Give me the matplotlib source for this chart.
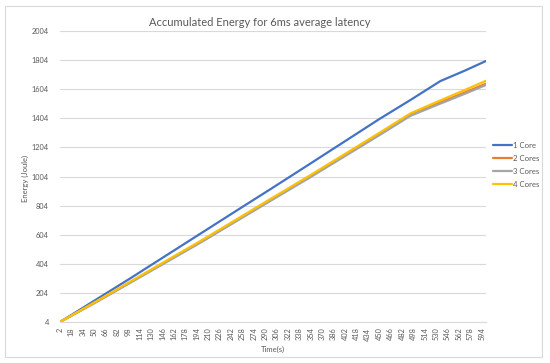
import matplotlib.pyplot as plt
from matplotlib.patches import Rectangle

plt.rcParams["font.family"] = ["Lato", "DejaVu Sans"]

# sampled read-offs of the curves (time in s, energy in Joule)
times = [2, 50, 100, 150, 200, 250, 300, 350, 400, 450, 494, 536, 570, 600]
core1 = [4, 150, 302, 458, 614, 770, 925, 1082, 1240, 1398, 1530, 1660, 1731, 1798]
core2 = [4, 134, 274, 415, 555, 702, 848, 994, 1143, 1293, 1427, 1513, 1581, 1642]
core3 = [4, 133, 272, 412, 552, 698, 844, 989, 1138, 1287, 1421, 1505, 1572, 1633]
core4 = [4, 138, 280, 422, 563, 710, 857, 1003, 1153, 1303, 1438, 1527, 1598, 1662]

series = [
    ("1 Core", core1, "#4472C4"),
    ("2 Cores", core2, "#ED7D31"),
    ("3 Cores", core3, "#A5A5A5"),
    ("4 Cores", core4, "#FFC000"),
]

y_ticks = list(range(4, 2005, 200))
x_ticks = list(range(2, 595, 16))

W, H = 550, 363
fig = plt.figure(figsize=(W / 100, H / 100), dpi=100)
ax = fig.add_axes([60 / W, 1 - 322 / H, (486 - 60) / W, (322 - 31) / H])

for label, vals, color in series:
    ax.plot(times, vals, color=color, lw=1.6, label=label, solid_capstyle="round")

ax.set_xlim(2, 600)
ax.set_ylim(4, 2004)
ax.set_yticks(y_ticks)
ax.set_xticks(x_ticks)
ax.set_xticklabels([str(t) for t in x_ticks], rotation=90)
ax.tick_params(axis="both", length=0, labelsize=5.3, colors="#595959")
ax.tick_params(axis="x", pad=4)
ax.tick_params(axis="y", pad=8)
ax.grid(axis="y", color="#D9D9D9", lw=0.8)
ax.set_axisbelow(True)
for side in ["top", "right", "left"]:
    ax.spines[side].set_visible(False)
ax.spines["bottom"].set_color("#D9D9D9")
ax.spines["bottom"].set_linewidth(0.8)

fig.text(260 / W, 1 - 22 / H, "Accumulated Energy for 6ms average latency",
         ha="center", va="center", fontsize=8, color="#595959")
fig.text(25 / W, 1 - 178 / H, "Energy (Joule)", rotation=90,
         ha="center", va="center", fontsize=5.5, color="#595959")
fig.text(273 / W, 1 - 349 / H, "Time(s)", ha="center", va="center",
         fontsize=5.5, color="#595959")

ax.legend(loc="upper left", bbox_to_anchor=(490 / W, 1 - 139 / H),
          bbox_transform=fig.transFigure, frameon=False, fontsize=5.6,
          handlelength=2.4, handletextpad=0.2, labelspacing=0.75,
          labelcolor="#595959", borderaxespad=0)

fig.patches.append(Rectangle((5 / W, 1 - 357 / H), 537 / W, 351 / H,
                             transform=fig.transFigure, fill=False,
                             edgecolor="#D9D9D9", lw=0.8))

fig.savefig("out.png", dpi=100)
